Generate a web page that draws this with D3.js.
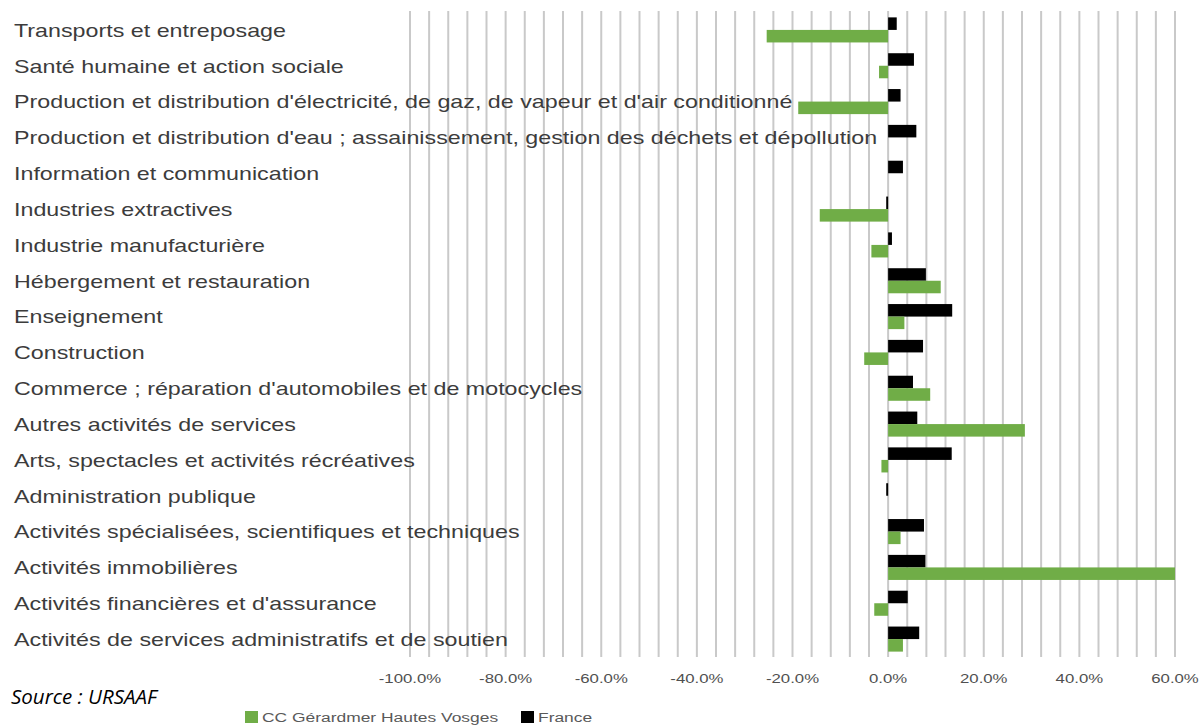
<!DOCTYPE html>
<html><head><meta charset="utf-8">
<script src="https://cdn.jsdelivr.net/npm/d3@7"></script>
<style>
html,body{margin:0;padding:0;background:#fff;}
svg{display:block;}
</style></head>
<body>
<svg id="chart" width="1202" height="725"></svg>
<script>
const categories = [
  "Transports et entreposage",
  "Santé humaine et action sociale",
  "Production et distribution d'électricité, de gaz, de vapeur et d'air conditionné",
  "Production et distribution d'eau ; assainissement, gestion des déchets et dépollution",
  "Information et communication",
  "Industries extractives",
  "Industrie manufacturière",
  "Hébergement et restauration",
  "Enseignement",
  "Construction",
  "Commerce ; réparation d'automobiles et de motocycles",
  "Autres activités de services",
  "Arts, spectacles et activités récréatives",
  "Administration publique",
  "Activités spécialisées, scientifiques et techniques",
  "Activités immobilières",
  "Activités financières et d'assurance",
  "Activités de services administratifs et de soutien"
];
const seriesNames = ["France", "CC Gérardmer Hautes Vosges"];
const franceValues = [1.8, 5.4, 2.6, 5.9, 3.1, -0.4, 0.8, 7.9, 13.4, 7.3, 5.2, 6.1, 13.3, -0.4, 7.5, 7.8, 4.1, 6.5];
const ccValues = [-25.4, -1.9, -18.8, 0, 0, -14.3, -3.5, 11.0, 3.4, -5.0, 8.8, 28.6, -1.4, 0, 2.6, 60.0, -2.9, 3.1];
const tickValues = [-100, -80, -60, -40, -20, 0, 20, 40, 60];
const gridValues = d3.range(-100, 61, 4);
const colors = {"France": "#000000", "CC Gérardmer Hautes Vosges": "#70ad47"};

const svg = d3.select("#chart");
const x = d3.scaleLinear().domain([-100, 60]).range([410, 1175]);
const y0 = d3.scaleBand().domain(categories).range([12, 657]).padding(0);
const y1 = d3.scaleBand().domain(seriesNames).range([0, y0.bandwidth()]).paddingInner(0).paddingOuter(0.43);

// gridlines
svg.append("g").selectAll("line").data(gridValues).join("line")
  .attr("x1", d => x(d)).attr("x2", d => x(d))
  .attr("y1", 11).attr("y2", 657)
  .attr("stroke", "#c9c9c9").attr("stroke-width", 2);

// category labels
const sx = 1.29;
const lab = svg.append("g").attr("transform", `translate(14,0) scale(${sx},1)`);
lab.selectAll("text").data(categories).join("text")
  .attr("x", 0).attr("y", d => y0(d) + y0.bandwidth() / 2 + 2)
  .attr("dominant-baseline", "middle")
  .attr("font-family", "Liberation Sans, Arial, sans-serif")
  .attr("font-size", 18).attr("fill", "#3c3c3c")
  .text(d => d);
const nodes = lab.selectAll("text").nodes();
let maxW = d3.max(nodes, n => n.getComputedTextLength());
const fit = 863 / (maxW * sx);
lab.attr("transform", `translate(14,0) scale(${sx * fit},1)`);

// bars
const rows = categories.map((c, i) => ({c, vals: [
  {s: "France", v: franceValues[i]},
  {s: "CC Gérardmer Hautes Vosges", v: ccValues[i]}
]}));
const g = svg.append("g");
g.selectAll("g").data(rows).join("g")
  .attr("transform", d => `translate(0,${y0(d.c)})`)
  .selectAll("rect").data(d => d.vals).join("rect")
  .attr("x", d => Math.min(x(0), x(d.v)))
  .attr("width", d => Math.abs(x(d.v) - x(0)))
  .attr("y", d => y1(d.s))
  .attr("height", y1.bandwidth())
  .attr("fill", d => colors[d.s]);

// x axis labels
const ax = svg.append("g");
ax.selectAll("text").data(tickValues).join("text")
  .attr("transform", d => `translate(${x(d)},680) scale(${sx},1)`)
  .attr("text-anchor", "middle").attr("dominant-baseline", "middle")
  .attr("font-family", "Liberation Sans, Arial, sans-serif")
  .attr("font-size", 13).attr("fill", "#505050")
  .text(d => d3.format(".1f")(d).replace("\u2212", "-") + "%");

// legend
const leg = svg.append("g");
const legItems = [
  {s: "CC Gérardmer Hautes Vosges", x: 245},
  {s: "France", x: 521}
];
legItems.forEach(it => {
  leg.append("rect").attr("x", it.x).attr("y", 711).attr("width", 13).attr("height", 12).attr("fill", colors[it.s]);
  leg.append("text")
    .attr("transform", `translate(${it.x + 17},718) scale(${sx},1)`)
    .attr("dominant-baseline", "middle")
    .attr("font-family", "Liberation Sans, Arial, sans-serif")
    .attr("font-size", 13.5).attr("fill", "#595959")
    .text(it.s);
});

// source
svg.append("text").attr("x", 11).attr("y", 704)
  .attr("font-family", "Open Sans, sans-serif").attr("font-style", "italic")
  .attr("font-size", 20.5).attr("fill", "#000")
  .text("Source : URSAAF");
</script>
</body></html>
